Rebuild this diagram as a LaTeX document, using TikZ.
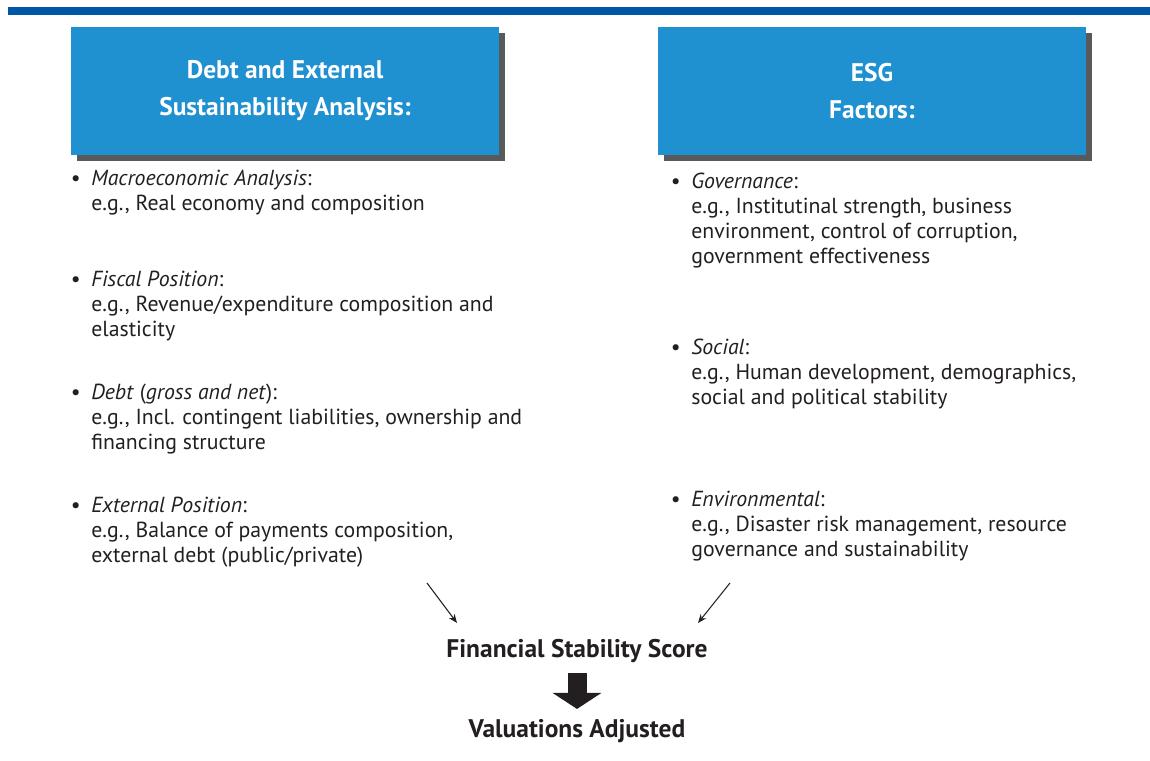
\documentclass[tikz,border=0pt]{standalone}
\usepackage{fontspec}
\setmainfont{PT Sans}
\usetikzlibrary{arrows.meta,positioning}
\definecolor{barblue}{HTML}{0057A8}
\definecolor{boxblue}{HTML}{1F90D0}
\definecolor{shadegrey}{HTML}{58595B}
\definecolor{inkgrey}{HTML}{231F20}
\newcommand{\bul}{\llap{\textbullet\hspace{6pt}}}

\begin{document}
\begin{tikzpicture}[x=0.02cm,y=-0.02cm,
			head/.style={fill=boxblue,text=white,minimum width=8.56cm,minimum height=2.58cm,align=center,font=\fontsize{14.5}{21}\selectfont\bfseries},
			shade/.style={fill=shadegrey,minimum width=8.56cm,minimum height=2.58cm},
			item/.style={anchor=base west,align=left,inner sep=0pt,text=inkgrey,font=\fontsize{12.4}{14.2}\selectfont},
			res/.style={inner sep=0pt,text=inkgrey,font=\fontsize{14.5}{16}\selectfont\bfseries},
			arr/.style={-{Stealth[length=5pt,width=4pt]},line width=0.6pt,inkgrey},
			bigarr/.style={-{Triangle[length=0.32cm,width=0.96cm]},line width=0.38cm,inkgrey,xshift=-0.08cm,shorten <=0.2cm,shorten >=0.2cm}
			]
			\useasboundingbox (0,0) rectangle (1150,761);
			\fill[barblue] (8,6.5) rectangle (1150,14.7);
			% column heads, shadow first
			\node[shade] at (291,97) {};
			\node[shade] at (878,97) {};
			\node[head] (debt) at (285,91) {Debt and External\\Sustainability Analysis:};
			\node[head] (esg) at (872,91) {ESG\\Factors:};
			% left column (placed at last baseline)
			\node[item] (mac) at (91,210) {\bul\textit{Macroeconomic Analysis}:\\e.g., Real economy and composition};
			\node[item] (fis) at (91,336) {\bul\textit{Fiscal Position}:\\e.g., Revenue/expenditure composition and\\elasticity};
			\node[item] (dbt) at (91,449) {\bul\textit{Debt} (\textit{gross and net}):\\e.g., Incl. contingent liabilities, ownership and\\financing structure};
			\node[item] (ext) at (91,562) {\bul\textit{External Position}:\\e.g., Balance of payments composition,\\external debt (public/private)};
			% right column
			\node[item] (gov) at (691,263) {\bul\textit{Governance}:\\e.g., Institutinal strength, business\\environment, control of corruption,\\government effectiveness};
			\node[item] (soc) at (691,404) {\bul\textit{Social}:\\e.g., Human development, demographics,\\social and political stability};
			\node[item] (env) at (691,556) {\bul\textit{Environmental}:\\e.g., Disaster risk management, resource\\governance and sustainability};
			% result
			\node[res] (fss) at (577,651) {Financial Stability Score};
			\node[res] (val) at (577,731) {Valuations Adjusted};
			\coordinate (l1) at (427,583);
			\coordinate (l2) at (457,623);
			\coordinate (r1) at (730,583);
			\coordinate (r2) at (698,623);
			\draw[arr] (l1)--(l2);
			\draw[arr] (r1)--(r2);
			\draw[bigarr] (fss.south)--(val.north);
		\end{tikzpicture}
\end{document}
